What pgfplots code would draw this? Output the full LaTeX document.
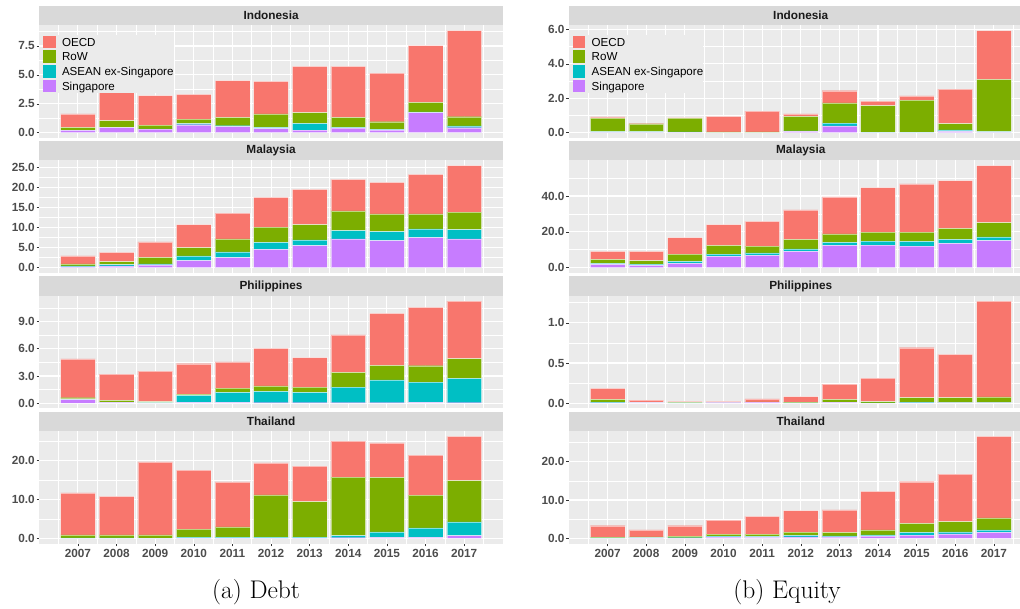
\documentclass[border=0pt]{standalone}
\usepackage{pgfplots}
\usepackage{pgfplotstable}
\pgfplotsset{compat=1.18}
\usepackage{fontspec}
\newfontfamily\arial{Liberation Sans}
\definecolor{oecd}{HTML}{F8766D}
\definecolor{rowc}{HTML}{7CAE00}
\definecolor{asean}{HTML}{00BFC4}
\definecolor{sing}{HTML}{C77CFF}
\definecolor{panelgray}{HTML}{EBEBEB}
\definecolor{stripgray}{HTML}{D9D9D9}
\definecolor{stripfg}{HTML}{1A1A1A}
\definecolor{ticktext}{HTML}{4D4D4D}
\definecolor{tickcol}{HTML}{333333}

\pgfplotstableread{
year S A R O
2007 0.20 0.03 0.23 1.16
2008 0.44 0.02 0.58 2.48
2009 0.30 0.02 0.34 2.54
2010 0.69 0.10 0.39 2.14
2011 0.52 0.08 0.73 3.17
2012 0.35 0.10 1.17 2.82
2013 0.23 0.58 0.92 4.01
2014 0.40 0.06 0.87 4.41
2015 0.23 0.06 0.66 4.21
2016 1.73 0.06 0.83 4.91
2017 0.43 0.15 0.80 7.45
}\debtIdn
\pgfplotstableread{
year S A R O
2007 0.20 0.25 0.50 2.00
2008 0.42 0.33 0.75 2.33
2009 0.67 0.25 1.66 3.84
2010 1.75 1.17 2.08 5.75
2011 2.50 1.42 3.25 6.41
2012 4.58 1.75 3.75 7.42
2013 5.50 1.42 3.83 8.75
2014 7.17 2.08 4.92 7.83
2015 6.75 2.25 4.42 7.83
2016 7.50 2.17 3.75 9.83
2017 7.17 2.33 4.33 11.59
}\debtMys
\pgfplotstableread{
year S A R O
2007 0.40 0.05 0.15 4.27
2008 0.10 0.03 0.17 2.91
2009 0.02 0.05 0.11 3.36
2010 0.10 0.75 0.15 3.35
2011 0.10 1.08 0.48 2.88
2012 0.05 1.24 0.63 4.13
2013 0.05 1.13 0.59 3.25
2014 0.05 1.72 1.62 4.13
2015 0.05 2.53 1.59 5.72
2016 0.10 2.22 1.81 6.42
2017 0.05 2.68 2.18 6.34
}\debtPhl
\pgfplotstableread{
year S A R O
2007 0.05 0.10 0.80 10.72
2008 0.05 0.10 0.80 9.87
2009 0.05 0.05 0.85 18.72
2010 0.10 0.25 2.05 15.11
2011 0.10 0.25 2.65 11.51
2012 0.10 0.24 10.82 8.24
2013 0.10 0.24 9.10 9.10
2014 0.20 0.55 14.96 9.27
2015 0.30 1.40 14.00 8.84
2016 0.30 2.45 8.40 10.20
2017 0.75 3.50 10.60 11.33
}\debtTha
\pgfplotstableread{
year S A R O
2007 0.02 0.04 0.78 0.08
2008 0.02 0.04 0.45 0.01
2009 0.02 0.03 0.79 0.04
2010 0.00 0.01 0.04 0.90
2011 0.00 0.01 0.04 1.20
2012 0.08 0.03 0.84 0.14
2013 0.39 0.16 1.18 0.71
2014 0.01 0.02 1.55 0.25
2015 0.01 0.02 1.86 0.25
2016 0.08 0.08 0.37 2.00
2017 0.02 0.04 3.04 2.84
}\eqIdn
\pgfplotstableread{
year S A R O
2007 1.86 0.56 2.23 4.47
2008 1.30 0.75 1.86 5.21
2009 2.42 1.11 4.10 9.11
2010 6.33 1.30 4.84 11.53
2011 6.88 1.31 3.90 13.77
2012 9.12 1.30 5.39 16.38
2013 12.47 1.67 4.65 20.65
2014 12.65 2.23 5.02 24.75
2015 12.09 2.61 5.20 26.80
2016 13.58 2.23 6.14 26.61
2017 15.07 2.05 8.00 31.81
}\eqMys
\pgfplotstableread{
year S A R O
2007 0.005 0.008 0.033 0.137
2008 0.008 0.002 0.003 0.025
2009 0.000 0.005 0.006 0.010
2010 0.006 0.002 0.002 0.011
2011 0.012 0.002 0.003 0.037
2012 0.002 0.002 0.008 0.071
2013 0.010 0.004 0.032 0.192
2014 0.002 0.003 0.015 0.293
2015 0.004 0.008 0.058 0.620
2016 0.003 0.004 0.063 0.538
2017 0.003 0.004 0.072 1.191
}\eqPhl
\pgfplotstableread{
year S A R O
2007 0.05 0.10 0.20 2.97
2008 0.10 0.15 0.20 1.82
2009 0.10 0.10 0.41 2.71
2010 0.35 0.26 0.53 3.66
2011 0.30 0.22 0.62 4.62
2012 0.44 0.35 0.87 5.59
2013 0.44 0.26 0.87 5.85
2014 0.61 0.35 1.31 9.96
2015 0.87 0.70 2.36 10.83
2016 1.22 0.53 2.62 12.40
2017 1.57 0.70 3.06 21.22
}\eqTha

\pgfplotsset{
  sqlegend/.style={legend image code/.code={\fill[##1,draw=none] (0pt,-6.25pt) rectangle (12.5pt,6.25pt);}},
  facet/.style={
    scale only axis,
    width=463.5pt, height=112.3pt,
    anchor=south west,
    axis background/.style={fill=panelgray},
    axis line style={draw=none},
    grid=both,
    major grid style={white, line width=1.1pt},
    minor grid style={white, line width=0.55pt},
    tick align=outside,
    major tick length=2.8pt,
    minor tick length=0pt,
    major tick style={tickcol, line width=0.5pt},
    tick pos=left,
    xmin=2006, xmax=2018,
    xtick={2007,2008,...,2017},
    minor xtick={2006.5,2007.5,...,2017.5},
    ybar stacked, bar width=0.9,
    /pgf/number format/assume math mode=true,
    tick label style={font=\arial\bfseries\fontsize{11.8}{12}\selectfont, text=ticktext},
    yticklabel style={/pgf/number format/.cd, fixed, fixed zerofill, precision=1, /tikz/inner xsep=1.5pt},
    xticklabel style={/pgf/number format/1000 sep={}, inner ysep=3pt},
    every axis title shift=0pt,
    title style={at={(0.5,1)}, anchor=south, yshift=0pt, fill=stripgray,
      minimum width=463.5pt, minimum height=19.5pt, inner sep=0pt, text=stripfg,
      font=\arial\bfseries\fontsize{11.8}{12}\selectfont},
    every axis plot post/.append style={sqlegend, draw=white, draw opacity=0.5, line width=0.4pt},
  },
  upper/.style={xticklabels={}, xtick style={draw=none}},
  leg/.style={
    legend entries={Singapore,ASEAN ex-Singapore,RoW,OECD},
    reverse legend,
    legend cell align=left,
    legend style={at={(axis description cs:0.008,0.919)}, anchor=north west,
      fill=panelgray, draw=none, inner sep=0pt, outer sep=0pt, column sep=6.5pt, row sep=0pt,
      font=\arial\fontsize{11.6}{12}\selectfont,
      nodes={inner sep=0pt, text height=11.5pt, text depth=3.2pt}},
  },
}

\newcommand{\facet}[5]{%
\begin{axis}[facet, at={(#1pt,#2pt)}, title={#3}, #5]
\addplot[fill=sing] table[x=year,y=S]{#4};
\addplot[fill=asean] table[x=year,y=A]{#4};
\addplot[fill=rowc] table[x=year,y=R]{#4};
\addplot[fill=oecd] table[x=year,y=O]{#4};
\end{axis}}

\begin{document}
\begin{tikzpicture}[x=1pt,y=1pt]
\useasboundingbox (0,0) rectangle (1020,609);
\clip (0,0) rectangle (1020,609);
% Debt column
\facet{39.3}{471.2}{Indonesia}{\debtIdn}{upper, leg, ymin=-0.4415, ymax=9.2715, ytick={0,2.5,5,7.5}, minor ytick={1.25,3.75,6.25,8.75}}
\facet{39.3}{336.2}{Malaysia}{\debtMys}{upper, ymin=-1.271, ymax=26.691, ytick={0,5,10,15,20,25}, minor ytick={2.5,7.5,12.5,17.5,22.5}}
\facet{39.3}{200.7}{Philippines}{\debtPhl}{upper, ymin=-0.5625, ymax=11.8125, ytick={0,3,6,9}, minor ytick={1.5,4.5,7.5,10.5}}
\facet{39.3}{65.4}{Thailand}{\debtTha}{ymin=-1.309, ymax=27.489, ytick={0,10,20}, minor ytick={5,15,25}}
% Equity column
\facet{569}{471.2}{Indonesia}{\eqIdn}{upper, leg, ymin=-0.297, ymax=6.237, ytick={0,2,4,6}, minor ytick={1,3,5}}
\facet{569}{336.2}{Malaysia}{\eqMys}{upper, ymin=-2.8465, ymax=59.7765, ytick={0,20,40}, minor ytick={10,30,50}}
\facet{569}{200.7}{Philippines}{\eqPhl}{upper, ymin=-0.0635, ymax=1.3335, ytick={0,0.5,1}, minor ytick={0.25,0.75,1.25}}
\facet{569}{65.4}{Thailand}{\eqTha}{ymin=-1.3275, ymax=27.8775, ytick={0,10,20}, minor ytick={5,15,25}}
\node[font=\fontsize{25.5}{30}\selectfont] at (256,17) {(a) Debt};
\node[font=\fontsize{25.5}{30}\selectfont] at (787,17) {(b) Equity};
\end{tikzpicture}
\end{document}
